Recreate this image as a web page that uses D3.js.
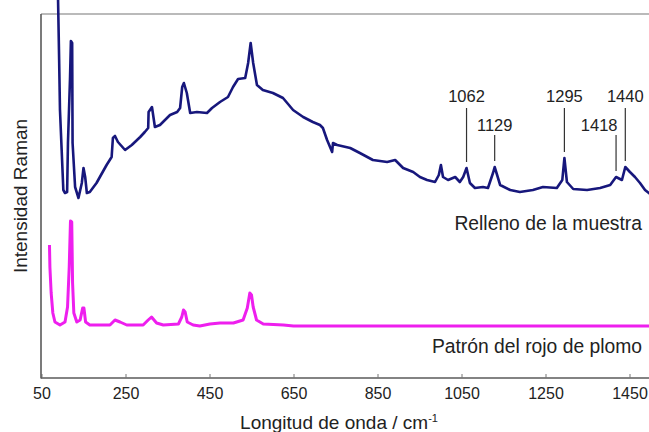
<!DOCTYPE html>
<html>
<head>
<meta charset="utf-8">
<script src="https://cdn.jsdelivr.net/npm/d3@7"></script>
<style>
  body { margin: 0; background: #fff; }
  svg { display: block; font-family: "Liberation Sans", Arial, sans-serif; }
</style>
</head>
<body>
<div class="chart"></div>
<script>
// wavenumber (cm-1) / intensity (arb. units)
var sampleWn = [89, 92, 94, 98, 102, 106, 111, 113, 118, 120, 123, 124, 130, 138, 146, 150, 154, 158, 165, 181,
    205, 217, 220, 225, 232, 249, 265, 285, 296, 304, 305, 313, 320, 332, 356, 373, 380, 385, 389, 396,
    404, 420, 444, 456, 475, 494, 506, 518, 535, 542, 548, 554, 563, 577, 601, 625, 649, 673, 696, 713,
    720, 730, 742, 744, 754, 785, 808, 839, 873, 892, 911, 935, 951, 968, 987, 996, 1001, 1006, 1018, 1035,
    1046, 1054, 1062, 1070, 1082, 1101, 1113, 1125, 1129, 1142, 1166, 1189, 1220, 1244, 1277, 1290, 1295, 1301, 1316, 1349,
    1380, 1404, 1418, 1432, 1440, 1451, 1463, 1475, 1487, 1496, 1511];
var sampleInt = [388, 318, 268, 228, 188, 185, 186, 235, 301, 337, 335, 235, 191, 180, 195, 210, 201, 185, 186, 195,
    213, 221, 240, 242, 236, 228, 233, 241, 246, 250, 266, 271, 251, 253, 263, 266, 270, 291, 295, 285,
    265, 266, 265, 270, 276, 281, 291, 299, 300, 315, 335, 315, 293, 288, 285, 280, 268, 261, 256, 253,
    250, 238, 226, 235, 233, 230, 225, 218, 216, 218, 210, 206, 201, 198, 196, 203, 213, 201, 198, 201,
    196, 201, 210, 195, 190, 191, 190, 205, 211, 193, 188, 186, 188, 191, 190, 198, 220, 196, 189, 188,
    190, 193, 201, 198, 211, 206, 201, 195, 188, 185, 180];

var standardWn = [69, 70, 73, 77, 82, 94, 106, 112, 116, 119, 122, 124, 127, 134, 142, 148, 151, 155, 165, 213,
    225, 237, 253, 292, 304, 312, 324, 340, 376, 384, 388, 392, 397, 411, 427, 451, 475, 507, 530, 540,
    546, 550, 554, 562, 578, 626, 650, 1000, 1510];
var standardInt = [133, 111, 85, 65, 56, 53, 56, 71, 111, 157, 156, 95, 65, 56, 58, 70, 70, 56, 53, 53,
    58, 56, 53, 53, 58, 61, 55, 53, 54, 61, 68, 66, 56, 53, 52, 54, 55, 55, 58, 70,
    85, 83, 71, 58, 54, 53, 52, 52, 52];

var xTicks = [50, 250, 450, 650, 850, 1050, 1250, 1450];
var peakLabels = [1062, 1129, 1295, 1418, 1440];
var seriesNames = ["Relleno de la muestra", "Patrón del rojo de plomo"];

var width = 649, height = 432;

var x = d3.scaleLinear().domain([50, 1550]).range([41.5, 671.5]);
var y = d3.scaleLinear().domain([0, 364]).range([378, 14]);

var svg = d3.select(".chart").append("svg")
    .attr("width", width)
    .attr("height", height);

// top frame line
svg.append("line")
    .attr("x1", 41).attr("x2", width)
    .attr("y1", 14).attr("y2", 14)
    .style("stroke", "#a3a3a3").style("stroke-width", 1.5);

var sample = sampleWn.map((d, i) => ({ wn: d, v: sampleInt[i] }));
var standard = standardWn.map((d, i) => ({ wn: d, v: standardInt[i] }));

var line = d3.line().x(d => x(d.wn)).y(d => y(d.v));

svg.append("path")
    .datum(standard)
    .attr("d", line)
    .style("fill", "none")
    .style("stroke", "#ee1fee")
    .style("stroke-width", 3)
    .style("stroke-linejoin", "round");

svg.append("path")
    .datum(sample)
    .attr("d", line)
    .style("fill", "none")
    .style("stroke", "#17177c")
    .style("stroke-width", 2.6)
    .style("stroke-linejoin", "round");

// x axis
var xAxis = svg.append("g")
    .attr("transform", "translate(0,378)")
    .call(d3.axisBottom(x).tickValues(xTicks).tickSize(-4).tickPadding(9.5).tickFormat(d3.format("d")));
xAxis.select(".domain").attr("d", "M41,0H" + width).style("stroke", "#5a5a5a").style("stroke-width", 1.6);
xAxis.selectAll(".tick line").style("stroke", "#777");
xAxis.selectAll("text").style("font-size", "16px").style("fill", "#222").style("font-family", "Liberation Sans, Arial, sans-serif");

// y axis (line only)
svg.append("line")
    .attr("x1", 41).attr("x2", 41)
    .attr("y1", 14).attr("y2", 378.5)
    .style("stroke", "#5a5a5a").style("stroke-width", 1.6);

// axis titles
var xt = svg.append("text")
    .attr("x", 339).attr("y", 429)
    .attr("text-anchor", "middle")
    .style("font-size", "19px").style("fill", "#222")
    .text("Longitud de onda / cm");
xt.append("tspan").attr("dy", -7).style("font-size", "11px").text("-1");

svg.append("text")
    .attr("transform", "translate(26.5,196) rotate(-90)")
    .attr("text-anchor", "middle")
    .style("font-size", "19px").style("fill", "#222")
    .text("Intensidad Raman");

// series labels
svg.append("text")
    .attr("x", 642).attr("y", 230)
    .attr("text-anchor", "end")
    .style("font-size", "19.3px").style("fill", "#222")
    .text(seriesNames[0]);

svg.append("text")
    .attr("x", 642).attr("y", 353)
    .attr("text-anchor", "end")
    .style("font-size", "19.3px").style("fill", "#222")
    .text(seriesNames[1]);

// peak annotations
var interp = d3.scaleLinear().domain(sampleWn).range(sampleInt);
var low = { 1129: true, 1418: true };

var ann = svg.selectAll(".peak")
    .data(peakLabels)
    .enter().append("g")
    .attr("class", "peak");

ann.append("line")
    .attr("x1", d => x(d)).attr("x2", d => x(d))
    .attr("y1", d => low[d] ? 135 : 108)
    .attr("y2", d => y(interp(d)) - 6)
    .style("stroke", "#333").style("stroke-width", 1.2);

ann.append("text")
    .attr("x", d => d == 1418 ? x(d) + 1.5 : x(d))
    .attr("y", d => low[d] ? 131 : 102)
    .attr("text-anchor", d => d == 1418 ? "end" : "middle")
    .style("font-size", "16.5px").style("fill", "#222")
    .text(d => d);
</script>
</body>
</html>
